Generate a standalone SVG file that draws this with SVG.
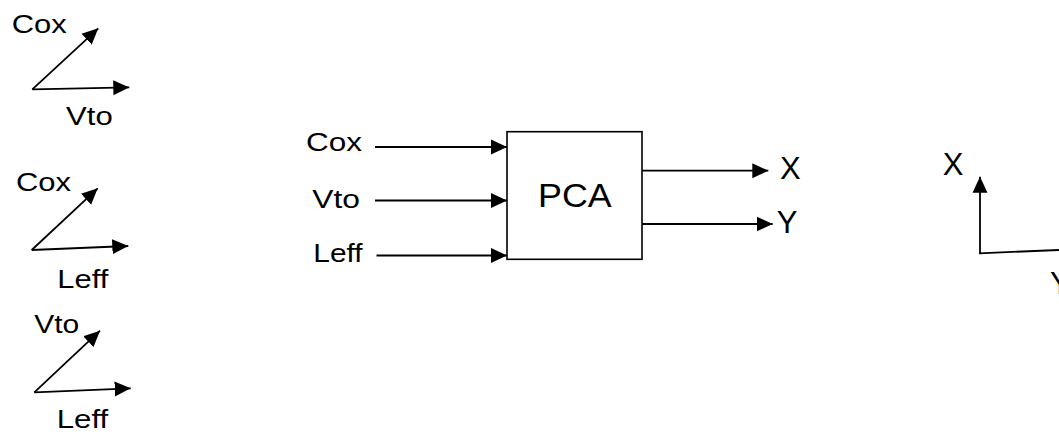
<svg xmlns="http://www.w3.org/2000/svg" width="1059" height="432" viewBox="0 0 1059 432">
<style>
text{font-family:"Liberation Sans",Arial,sans-serif;fill:#000}
.lbl{font-size:26px}
.big{font-size:31px}
.pca{font-size:33.5px}
.ln{stroke:#000;stroke-width:1.8;fill:none;marker-end:url(#ah)}
.box{stroke:#000;stroke-width:1.6;fill:#fff}
</style>
<defs>
<marker id="ah" markerUnits="userSpaceOnUse" markerWidth="16" markerHeight="16" viewBox="0 0 16 16" refX="16" refY="8" orient="auto">
<path d="M0,0.5 L16,8 L0,15.5 z" fill="#000"/>
</marker>
</defs>
<g id="connectors">
<path class="ln" d="M32.3,89.3 L98.3,28.3"/>
<path class="ln" d="M32.3,89.3 L129.3,87.3"/>
<path class="ln" d="M31.7,250 L97.7,188.3"/>
<path class="ln" d="M31.7,250 L128.3,246"/>
<path class="ln" d="M34.3,392.3 L100,330.7"/>
<path class="ln" d="M34.3,392.3 L130.7,388.3"/>
<path class="ln" d="M375,147 L507,147"/>
<path class="ln" d="M375,200.5 L507,200.5"/>
<path class="ln" d="M376.5,255.5 L507,255.5"/>
<path class="ln" d="M638,170.7 L768.3,170.7"/>
<path class="ln" d="M640,224 L772.7,224"/>
<path class="ln" d="M980,253.3 L980,176.7"/>
<path stroke="#000" stroke-width="1.8" fill="none" d="M979,253.3 L1059,250"/>
</g>
<g id="pca">
<rect class="box" x="507" y="131.7" width="135" height="127.6"/>
<text class="pca" x="538" y="207.3" textLength="73.7" lengthAdjust="spacingAndGlyphs">PCA</text>
</g>
<g id="plot1">
<text class="lbl" x="11.7" y="33.3" textLength="55" lengthAdjust="spacingAndGlyphs">Cox</text>
<text class="lbl" x="66" y="125" textLength="46.7" lengthAdjust="spacingAndGlyphs">Vto</text>
</g>
<g id="plot2">
<text class="lbl" x="16" y="190.7" textLength="55" lengthAdjust="spacingAndGlyphs">Cox</text>
<text class="lbl" x="57.3" y="288.3" textLength="51" lengthAdjust="spacingAndGlyphs">Leff</text>
</g>
<g id="plot3">
<text class="lbl" x="34.3" y="332.7" textLength="45" lengthAdjust="spacingAndGlyphs">Vto</text>
<text class="lbl" x="56.7" y="428" textLength="51.6" lengthAdjust="spacingAndGlyphs">Leff</text>
</g>
<g id="inputs">
<text class="lbl" x="306" y="150.7" textLength="56" lengthAdjust="spacingAndGlyphs">Cox</text>
<text class="lbl" x="312.3" y="208.3" textLength="47.7" lengthAdjust="spacingAndGlyphs">Vto</text>
<text class="lbl" x="313.3" y="261.7" textLength="49.4" lengthAdjust="spacingAndGlyphs">Leff</text>
</g>
<g id="outputs">
<text class="big" x="780" y="179.3">X</text>
<text class="big" x="776.7" y="233.3">Y</text>
</g>
<g id="axes">
<text class="big" x="942.7" y="175">X</text>
<text class="big" x="1050" y="294">Y</text>
</g>
</svg>
